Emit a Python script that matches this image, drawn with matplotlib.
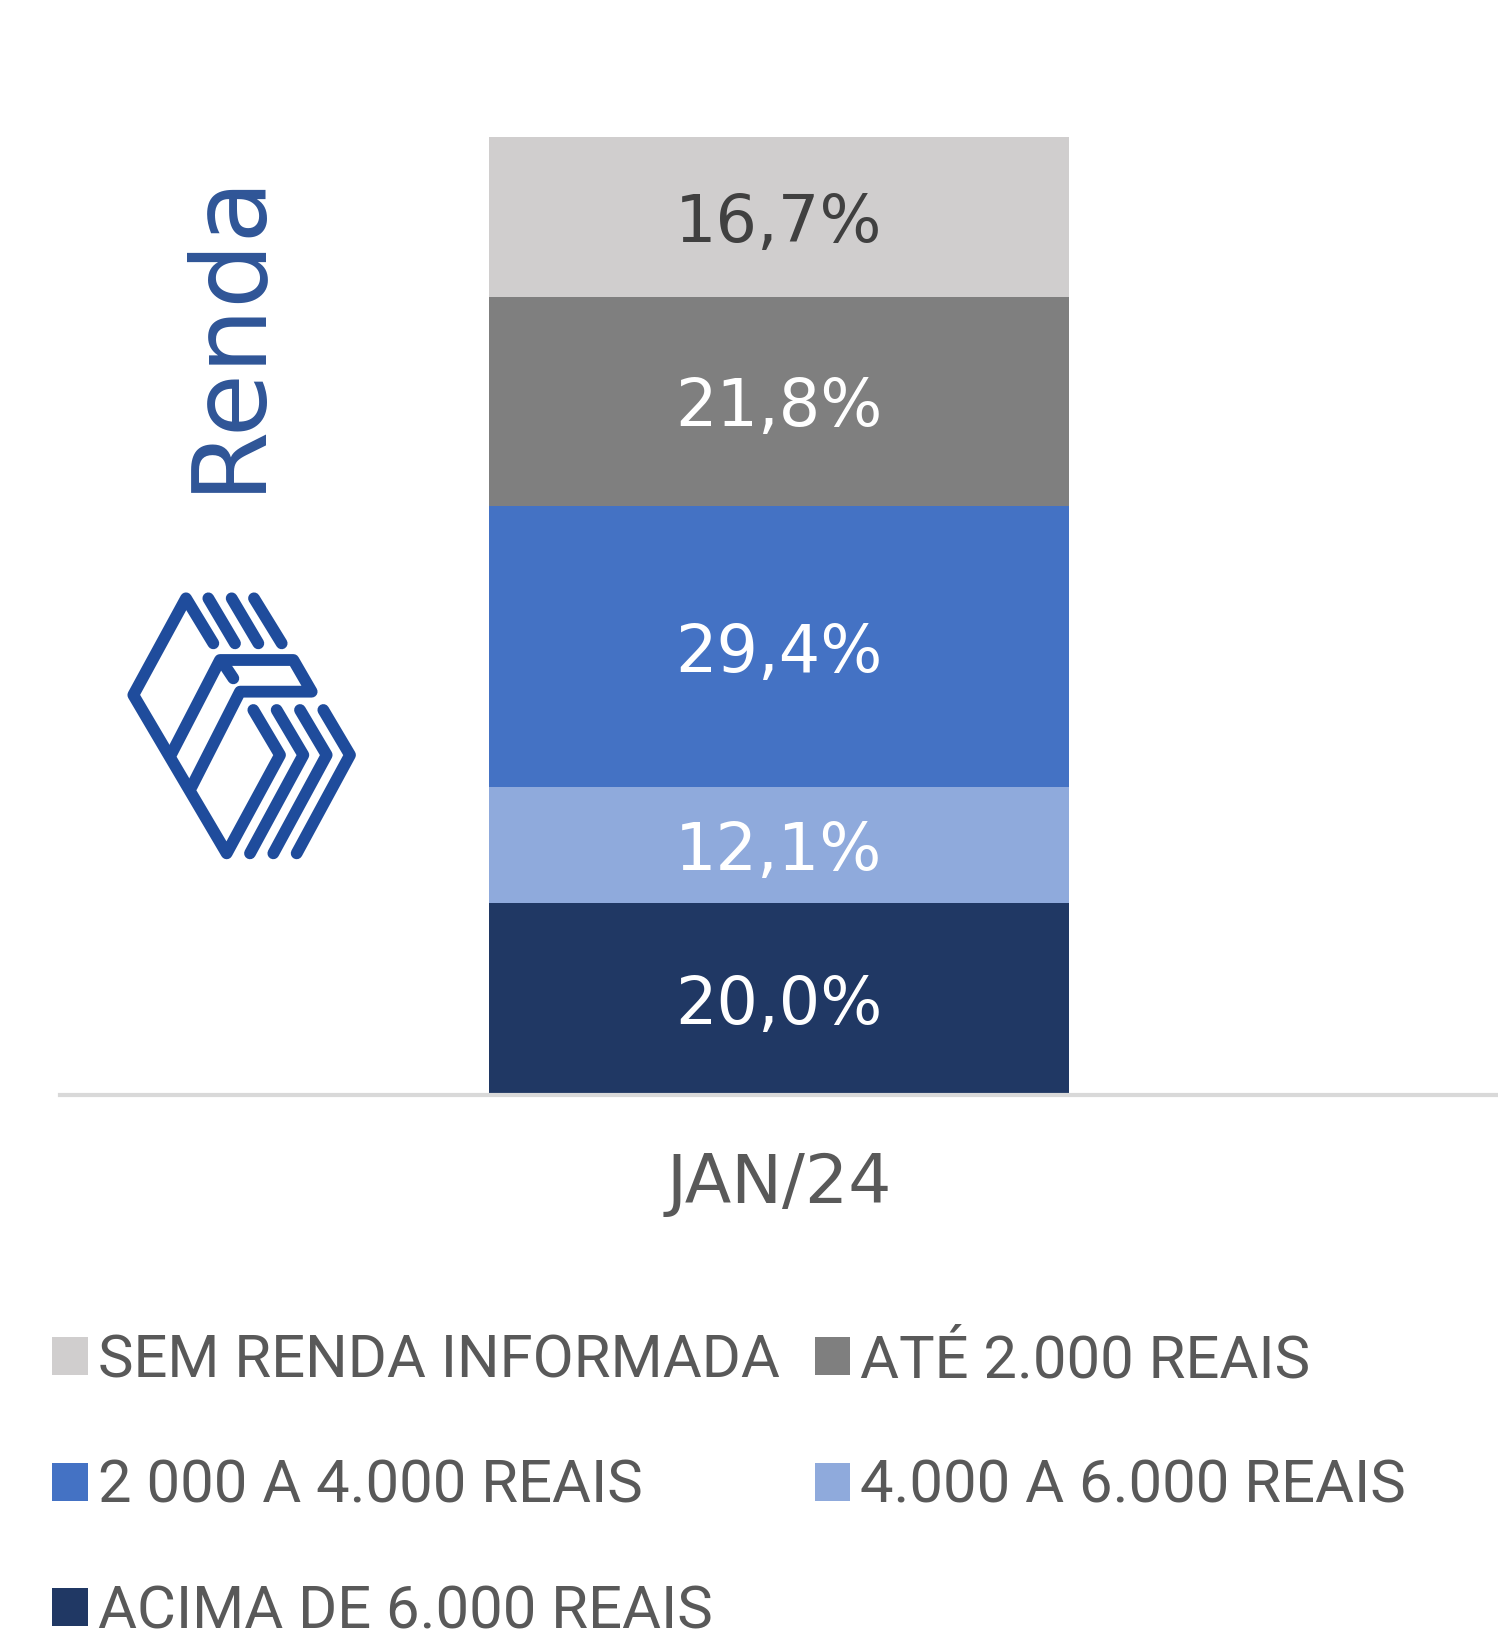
import matplotlib
matplotlib.use("Agg")
import matplotlib.pyplot as plt
from matplotlib.lines import Line2D
from matplotlib.transforms import Affine2D

# ---- data ----
categories = ["JAN/24"]
series_names = ["ACIMA DE 6.000 REAIS", "4.000 A 6.000 REAIS", "2 000 A 4.000 REAIS",
                "ATÉ 2.000 REAIS", "SEM RENDA INFORMADA"]
series_values = [20.0, 12.1, 29.4, 21.8, 16.7]
value_labels = ["20,0%", "12,1%", "29,4%", "21,8%", "16,7%"]
colors = ["#203864", "#8FAADC", "#4472C4", "#7F7F7F", "#D0CECE"]
label_colors = ["white", "white", "white", "white", "#404040"]

W, H = 1498, 1632
fig = plt.figure(figsize=(W / 100, H / 100), dpi=100)
fig.patch.set_facecolor("white")

ax_left, ax_right = 60, 1498
ax_bottom_px, ax_top_px = 1095, 137
ax = fig.add_axes([ax_left / W, 1 - ax_bottom_px / H, (ax_right - ax_left) / W,
                   (ax_bottom_px - ax_top_px) / H])

bar_width = 580 / (ax_right - ax_left)
bottom = 0
bars = []
for name, val, col, lab, lc in zip(series_names, series_values, colors, value_labels, label_colors):
    b = ax.bar(0, val, bottom=bottom, width=bar_width, color=col, label=name, zorder=2)
    bars.append(b)
    ax.text(0, bottom + val / 2, lab, ha="center", va="center_baseline", color=lc,
            fontsize=47, family=["DejaVu Sans"])
    bottom += val

ax.set_xlim(-0.5, 0.5)
ax.set_ylim(0, 100)
ax.set_xticks([0])
ax.set_xticklabels(categories, fontsize=49, color="#595959", family=["DejaVu Sans"])
ax.tick_params(axis="x", length=0, pad=40)
ax.set_yticks([])
for s in ["top", "left", "right"]:
    ax.spines[s].set_visible(False)
ax.spines["bottom"].set_color("#D9D9D9")
ax.spines["bottom"].set_linewidth(3)
ax.spines["bottom"].set_zorder(3)

# ---- legend (row-major order) ----
order = [4, 2, 0, 3, 1]
handles = [bars[i] for i in order]
labels = [series_names[i] for i in order]
leg = fig.legend(handles, labels, ncol=2, loc="upper left",
                 bbox_to_anchor=(52 / W, 1 - 1332 / H), frameon=False,
                 prop={"family": ["Roboto", "DejaVu Sans"], "size": 43},
                 handlelength=0.6, handleheight=0.6, handletextpad=0.17,
                 labelspacing=1.15, columnspacing=0.58, borderaxespad=0, borderpad=0)
for t in leg.get_texts():
    t.set_color("#595959")

# ---- "Renda" title ----
fig.text(227 / W, 1 - 330 / H, "Renda", rotation=90, ha="center", va="center",
         fontsize=74, color="#2F5597", family=["DejaVu Sans"])

# ---- logo (decorative) ----
logo_color = "#1F4C9C"
pix = Affine2D().scale(1 / 3, 1 / 3).translate(100, 560).scale(1 / W, -1 / H).translate(0, 1)
paths = [
    [(340, 250), (258, 115), (100, 405), (380, 880), (540, 585), (460, 450)],
    [(215, 580), (360, 300), (580, 300), (635, 395), (420, 395), (275, 680)],
    [(378, 322), (400, 355)],
    [(325, 115), (405, 250)],
    [(395, 115), (475, 250)],
    [(462, 115), (545, 250)],
    [(530, 450), (610, 585), (450, 880)],
    [(600, 450), (680, 585), (520, 880)],
    [(670, 450), (750, 585), (590, 880)],
]
for p in paths:
    xs = [q[0] for q in p]
    ys = [q[1] for q in p]
    ln = Line2D(xs, ys, transform=pix + fig.transFigure, color=logo_color, lw=8.5,
                solid_capstyle="round", solid_joinstyle="round")
    fig.add_artist(ln)

fig.savefig("out.png", dpi=100, facecolor="white")
